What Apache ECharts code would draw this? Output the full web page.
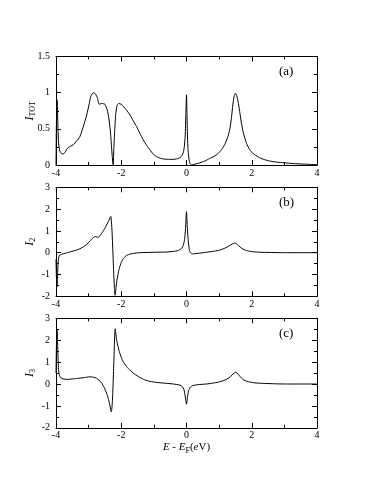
<!DOCTYPE html>
<html><head><meta charset="utf-8">
<script src="https://cdn.jsdelivr.net/npm/echarts@6/dist/echarts.min.js"></script>
<style>html,body{margin:0;padding:0;background:#fff}#c{width:374px;height:484px}</style>
</head><body><div id="c"></div>
<script>
// Panel (a): I_TOT
const xA = [-4,-3.99,-3.975,-3.965,-3.955,-3.94,-3.92,-3.88,-3.82,-3.78,-3.72,-3.65,-3.62,-3.55,-3.47,-3.37,-3.27,-3.17,-3.06,-2.98,-2.94,-2.88,-2.84,-2.79,-2.73,-2.68,-2.6,-2.5,-2.43,-2.38,-2.33,-2.29,-2.26,-2.245,-2.23,-2.2,-2.17,-2.13,-2.08,-2.0,-1.94,-1.84,-1.73,-1.63,-1.53,-1.43,-1.33,-1.22,-1.12,-1.02,-0.92,-0.81,-0.71,-0.55,-0.41,-0.3,-0.2,-0.14,-0.1,-0.07,-0.04,-0.02,0,0.015,0.03,0.05,0.08,0.11,0.15,0.25,0.41,0.56,0.71,0.85,0.97,1.07,1.17,1.26,1.33,1.38,1.42,1.46,1.5,1.54,1.58,1.63,1.68,1.75,1.84,1.94,2.04,2.2,2.35,2.55,2.76,3.0,3.27,3.6,4];
const yA = [0,0.5,0.88,0.9,0.8,0.5,0.3,0.19,0.155,0.15,0.18,0.23,0.245,0.26,0.28,0.33,0.39,0.52,0.69,0.85,0.94,0.99,1.0,0.98,0.93,0.84,0.85,0.84,0.76,0.65,0.45,0.2,0.03,0,0.2,0.48,0.7,0.82,0.85,0.84,0.81,0.76,0.69,0.61,0.53,0.44,0.35,0.27,0.21,0.15,0.115,0.095,0.083,0.078,0.078,0.085,0.1,0.13,0.17,0.24,0.4,0.7,0.97,0.7,0.4,0.2,0.07,0.02,0,0.01,0.03,0.055,0.09,0.12,0.16,0.21,0.28,0.38,0.5,0.66,0.83,0.95,0.99,0.96,0.88,0.74,0.59,0.43,0.3,0.21,0.16,0.11,0.08,0.055,0.04,0.03,0.02,0.012,0.005];
// Panel (b): I_2
const xB = [-4,-3.99,-3.975,-3.965,-3.955,-3.94,-3.92,-3.89,-3.84,-3.78,-3.65,-3.47,-3.37,-3.27,-3.17,-3.06,-2.98,-2.91,-2.85,-2.79,-2.74,-2.7,-2.65,-2.6,-2.52,-2.45,-2.38,-2.34,-2.32,-2.3,-2.28,-2.25,-2.23,-2.21,-2.19,-2.17,-2.14,-2.1,-2.06,-2.0,-1.94,-1.84,-1.73,-1.58,-1.43,-1.0,-0.61,-0.4,-0.25,-0.15,-0.1,-0.06,-0.03,0,0.02,0.05,0.08,0.11,0.15,0.22,0.35,0.61,0.85,1.02,1.15,1.27,1.36,1.43,1.48,1.53,1.6,1.68,1.78,1.89,2.05,2.24,2.6,3.0,4];
const yB = [-0.3,-1.0,-1.5,-1.55,-1.2,-0.6,-0.25,-0.12,-0.08,-0.05,0.0,0.08,0.12,0.18,0.26,0.38,0.5,0.62,0.7,0.74,0.72,0.71,0.78,0.89,1.07,1.27,1.48,1.62,1.66,1.4,0.9,-0.2,-1.0,-1.6,-1.95,-1.75,-1.33,-1.0,-0.72,-0.45,-0.27,-0.13,-0.06,-0.02,0.0,0.02,0.03,0.06,0.1,0.2,0.33,0.6,1.1,1.88,1.3,0.6,0.2,0.02,-0.04,-0.05,-0.03,0.02,0.07,0.12,0.19,0.28,0.36,0.42,0.44,0.41,0.32,0.21,0.13,0.08,0.04,0.02,0.01,0.0,0];
// Panel (c): I_3
const xC = [-4,-3.99,-3.975,-3.965,-3.955,-3.94,-3.92,-3.89,-3.85,-3.78,-3.67,-3.5,-3.37,-3.2,-3.06,-2.95,-2.88,-2.8,-2.72,-2.65,-2.6,-2.52,-2.45,-2.4,-2.35,-2.32,-2.305,-2.29,-2.27,-2.25,-2.23,-2.21,-2.195,-2.185,-2.17,-2.14,-2.1,-2.06,-2.0,-1.94,-1.84,-1.73,-1.6,-1.43,-1.28,-1.12,-0.9,-0.61,-0.4,-0.2,-0.13,-0.08,-0.04,0,0.03,0.06,0.1,0.15,0.2,0.35,0.61,0.85,1.02,1.18,1.3,1.4,1.46,1.5,1.55,1.61,1.68,1.76,1.86,1.94,2.1,2.35,2.7,3.0,4];
const yC = [0.5,1.5,2.35,2.45,2.1,1.3,0.6,0.38,0.28,0.23,0.21,0.23,0.25,0.28,0.31,0.33,0.32,0.29,0.22,0.13,0.04,-0.17,-0.42,-0.65,-0.96,-1.22,-1.27,-1.15,-0.75,0.0,0.9,1.8,2.4,2.52,2.35,2.0,1.72,1.48,1.22,1.02,0.8,0.63,0.46,0.3,0.19,0.12,0.07,0.03,0.0,-0.05,-0.12,-0.25,-0.55,-0.92,-0.6,-0.33,-0.18,-0.11,-0.07,-0.03,0.0,0.05,0.1,0.18,0.28,0.41,0.5,0.54,0.5,0.4,0.28,0.18,0.12,0.09,0.05,0.03,0.01,0.0,0];
const panelLabels = ['(a)','(b)','(c)'];
const yNames = ['{i|I}{s|TOT}','{i|I}{s|2}','{i|I}{s|3}'];

const FONT = 'Liberation Serif';
const pairs = (xs, ys) => xs.map((x, i) => [x, ys[i]]);
const grids = [
  {left:56, top:56.5, width:261, height:108.5},
  {left:56, top:187.3, width:261, height:109},
  {left:56, top:318.3, width:261, height:109.5}
];
const yRanges = [[0,1.5,0.5],[-2,3,1],[-2,3,1]];
const axLine = {show:true, onZero:false, lineStyle:{color:'#000', width:1}};
const tick = {show:true, inside:true, length:5, lineStyle:{color:'#000', width:1}};
const minor = {show:true, splitNumber:2, length:3, lineStyle:{color:'#000', width:1}};
const lbl = {color:'#000', fontFamily:FONT, fontSize:10};
const xAxes = [], yAxes = [];
grids.forEach((g, i) => {
  xAxes.push({type:'value', gridIndex:i, min:-4, max:4, interval:2, position:'bottom',
    axisLine:axLine, axisTick:tick, minorTick:minor, splitLine:{show:false},
    axisLabel:Object.assign({margin:3}, lbl),
    name: i === 2 ? '{e|E} - {e|E}{s|F}{n|(}{e|e}{n|V)}' : '', nameLocation:'middle', nameGap:11,
    nameTextStyle:{fontFamily:FONT, fontSize:11, color:'#000', rich:{
      e:{fontStyle:'italic', fontFamily:FONT, fontSize:11, color:'#000'},
      s:{fontFamily:FONT, fontSize:8, color:'#000', padding:[7,0,0,0]},
      n:{fontFamily:FONT, fontSize:11, color:'#000'}}}});
  xAxes.push({type:'value', gridIndex:i, min:-4, max:4, interval:2, position:'top',
    axisLine:axLine, axisTick:tick, minorTick:minor, splitLine:{show:false}, axisLabel:{show:false}});
  const r = yRanges[i];
  yAxes.push({type:'value', gridIndex:i, min:r[0], max:r[1], interval:r[2], position:'left',
    axisLine:axLine, axisTick:tick, minorTick:minor, splitLine:{show:false},
    axisLabel:Object.assign({margin:6}, lbl),
    name:yNames[i], nameLocation:'middle', nameRotate:90, nameGap:19, nameMoveOverlap:false,
    nameTextStyle:{rich:{
      i:{fontStyle:'italic', fontFamily:FONT, fontSize:12, color:'#000'},
      s:{fontFamily:FONT, fontSize:8, color:'#000', padding:[7,0,0,0]}}}});
  yAxes.push({type:'value', gridIndex:i, min:r[0], max:r[1], interval:r[2], position:'right',
    axisLine:axLine, axisTick:tick, minorTick:minor, splitLine:{show:false}, axisLabel:{show:false}});
});
const datasets = [pairs(xA,yA), pairs(xB,yB), pairs(xC,yC)];
const series = datasets.map((d, i) => ({type:'line', data:d, xAxisIndex:2*i, yAxisIndex:2*i,
  showSymbol:false, smooth:0.2, lineStyle:{color:'#000', width:1}, clip:true}));
const graphic = panelLabels.map((t, i) => ({type:'text', left:279, top:grids[i].top + 9,
  style:{text:t, font:'13px "Liberation Serif"', fill:'#000'}}));
const chart = echarts.init(document.getElementById('c'), null, {renderer:'canvas'});
chart.setOption({animation:false, backgroundColor:'#fff', grid:grids, xAxis:xAxes, yAxis:yAxes, series, graphic});
</script></body></html>
